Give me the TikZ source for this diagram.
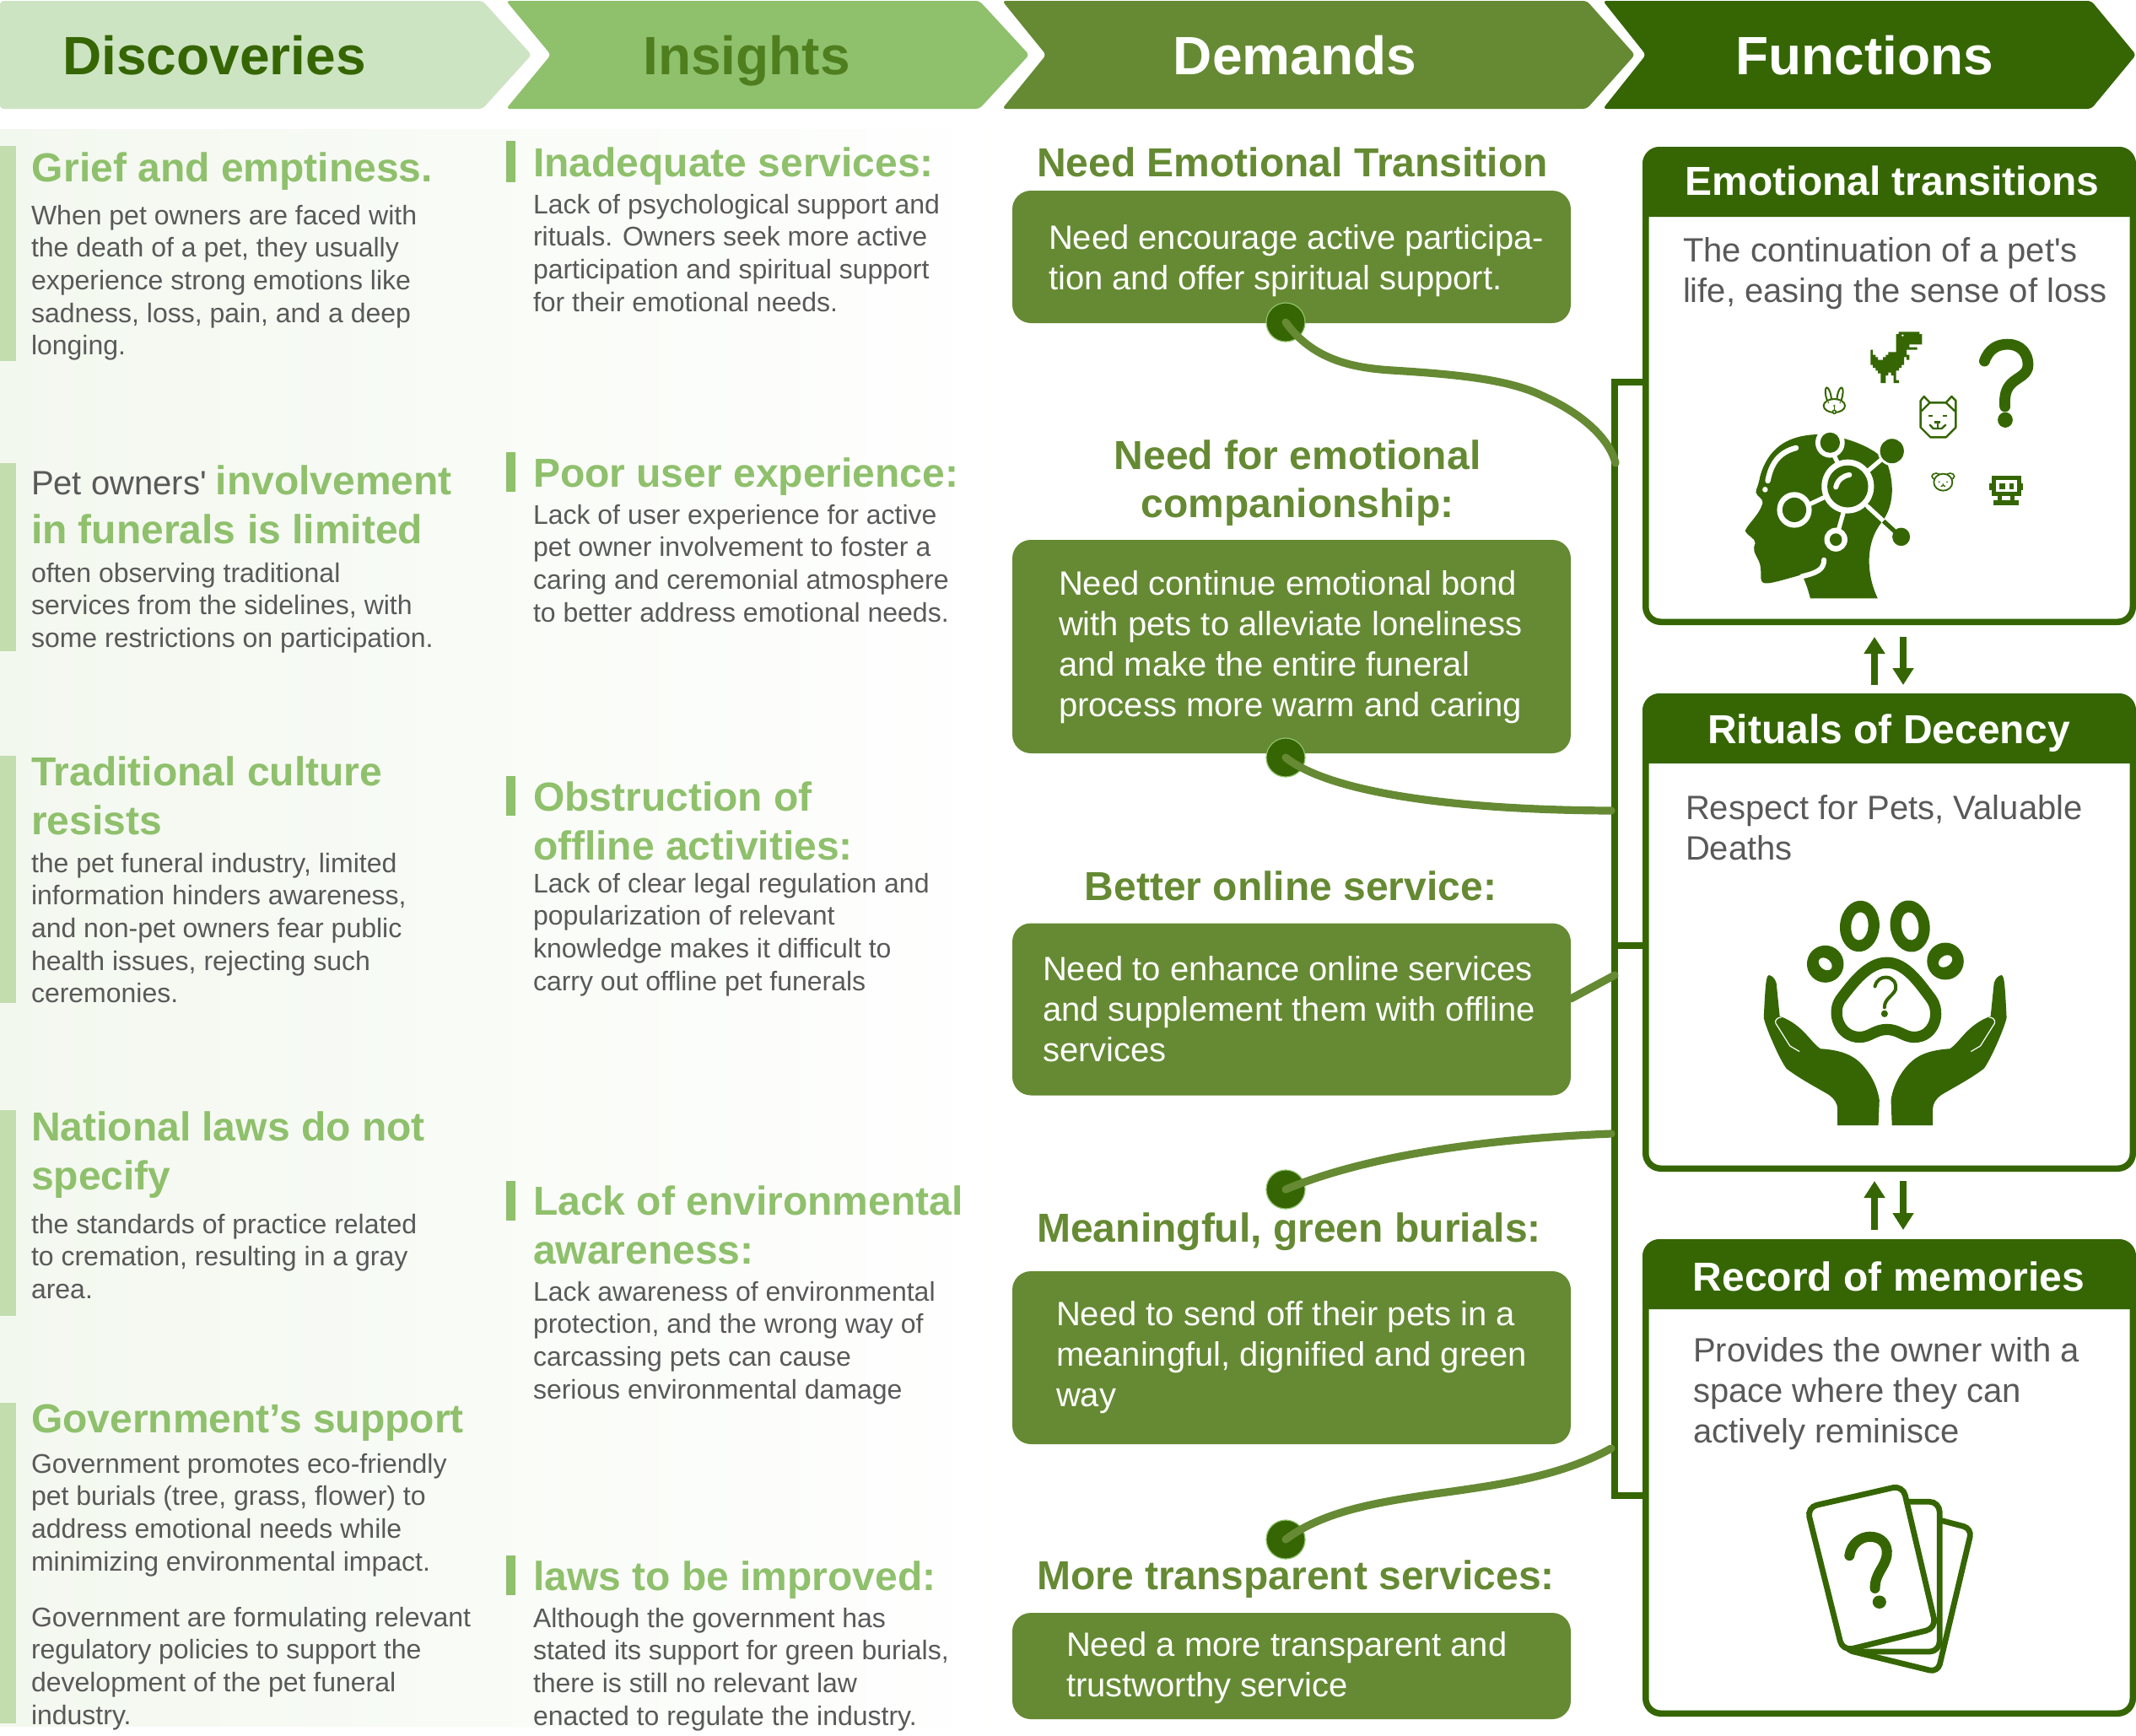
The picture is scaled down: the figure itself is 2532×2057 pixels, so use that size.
\documentclass[tikz,border=0pt]{standalone}
\usepackage{fontspec}
\setmainfont{Liberation Sans}[Ligatures=TeXOff]
\usetikzlibrary{arrows.meta}
\definecolor{fg}{HTML}{356603}
\definecolor{dm}{HTML}{658A33}
\definecolor{ins}{HTML}{8FC06C}
\definecolor{dc}{HTML}{CDE4C3}
\definecolor{barl}{HTML}{C3DDAE}
\definecolor{insT}{HTML}{4F7E1F}
\definecolor{gr}{HTML}{595959}
\definecolor{panel}{HTML}{F3F8EF}
\newcommand\blk[1]{\begin{tabular}[t]{@{}l@{}}#1\end{tabular}}
\newcommand\blc[1]{\begin{tabular}[t]{@{}c@{}}#1\end{tabular}}
\newcommand\fsz[2]{\fontsize{#1}{#2}\selectfont}
\tikzset{
 tx/.style={inner sep=0pt,outer sep=0pt,anchor=base west},
 body/.style={tx,text=gr,font=\fsz{16}{19.35}},
 ltitle/.style={tx,text=ins,font=\fsz{24}{29}\bfseries},
 dtitle/.style={tx,anchor=base,text=dm,font=\fsz{24}{28.5}\bfseries},
 boxtext/.style={tx,text=white,font=\fsz{20}{24}},
 ftitle/.style={tx,anchor=base,text=white,font=\fsz{24}{29}\bfseries},
 ftext/.style={tx,text=gr,font=\fsz{20}{24}},
 headlab/.style={tx,anchor=base,font=\fsz{32}{36}\bfseries},
 dbox/.style={draw=none,fill=dm,rounded corners=11pt,inner sep=0pt},
 fbox/.style={draw=fg,line width=3.75pt,fill=white,rounded corners=9pt,inner sep=0pt},
 dot/.style={circle,fill=fg,draw=ins,line width=.6pt,minimum size=23pt,inner sep=0pt},
 curve/.style={draw=dm,line width=4.6pt,line cap=round},
 twoway/.style={draw=fg,line width=4pt,-{Triangle[width=12pt,length=10pt]}},
 bracket/.style={draw=fg,line width=3.75pt},
 wl/.style={draw=white,line cap=round},
}
\begin{document}
\begin{tikzpicture}[x=0.5pt,y=-0.5pt]
\useasboundingbox (0,0) rectangle (2532,2057);
\fill[white] (0,0) rectangle (2532,2057);
\shade[left color=panel,right color=white] (0,153) rectangle (1215,2046);
% headers
\fill[dc,rounded corners=2pt] (0,1) -- (572,1) -- (630,65) -- (572,129) -- (0,129) -- cycle;
\fill[ins,rounded corners=2pt] (600,1) -- (1161,1) -- (1220,65) -- (1161,129) -- (600,129) -- (653,65) -- cycle;
\fill[dm,rounded corners=2pt] (1188,1) -- (1881,1) -- (1938,65) -- (1881,129) -- (1188,129) -- (1240,65) -- cycle;
\fill[fg,rounded corners=2pt] (1900,1) -- (2479,1) -- (2532,65) -- (2479,129) -- (1900,129) -- (1951,65) -- cycle;
\node[headlab,text=fg] (hd) at (254,88) {Discoveries};
\node[headlab,text=insT] (hi) at (885,88) {Insights};
\node[headlab,text=white] (hm) at (1535,88) {Demands};
\node[headlab,text=white] (hf) at (2210,88) {Functions};
% left bars
\fill[barl] (0,173) rectangle (19,428);
\fill[barl] (0,549) rectangle (19,772);
\fill[barl] (0,896) rectangle (19,1189);
\fill[barl] (0,1316) rectangle (19,1560);
\fill[barl] (0,1663) rectangle (19,2043);
\fill[ins] (600,167) rectangle (611,216);
\fill[ins] (600,536) rectangle (611,583);
\fill[ins] (600,920) rectangle (611,967);
\fill[ins] (600,1400) rectangle (611,1447);
\fill[ins] (600,1844) rectangle (611,1891);
% left column
\node[ltitle] (l1t) at (38,215) {Grief and emptiness.};
\node[body] (l1b) at (37,266) {\blk{When pet owners are faced with\\the death of a pet, they usually\\experience strong emotions like\\sadness, loss, pain, and a deep\\longing.}};
\node[ltitle] (l2t) at (37,586) {\blk{{\color{gr}\fontsize{20}{29}\selectfont\mdseries Pet owners' }involvement\\in funerals is limited}};
\node[body] (l2b) at (37,690) {\blk{often observing traditional\\services from the sidelines, with\\some restrictions on participation.}};
\node[ltitle] (l3t) at (37,931) {\blk{Traditional culture\\resists}};
\node[body] (l3b) at (37,1034) {\blk{the pet funeral industry, limited\\information hinders awareness,\\and non-pet owners fear public\\health issues, rejecting such\\ceremonies.}};
\node[ltitle] (l4t) at (37,1352) {\blk{National laws do not\\specify}};
\node[body] (l4b) at (37,1462) {\blk{the standards of practice related\\to cremation, resulting in a gray\\area.}};
\node[ltitle] (l5t) at (37,1698) {Government’s support};
\node[body] (l5b) at (37,1746) {\blk{Government promotes eco-friendly\\pet burials (tree, grass, flower) to\\address emotional needs while\\minimizing environmental impact.}};
\node[body] (l5c) at (37,1928) {\blk{Government are formulating relevant\\regulatory policies to support the\\development of the pet funeral\\industry.}};
% insights column
\node[ltitle] (i1t) at (632,209) {Inadequate services:};
\node[body] (i1b) at (632,253) {\blk{Lack of psychological support and\\rituals. Owners seek more active\\participation and spiritual support\\for their emotional needs.}};
\node[ltitle] (i2t) at (632,577) {Poor user experience:};
\node[body] (i2b) at (632,621) {\blk{Lack of user experience for active\\pet owner involvement to foster a\\caring and ceremonial atmosphere\\to better address emotional needs.}};
\node[ltitle] (i3t) at (632,961) {\blk{Obstruction of\\offline activities:}};
\node[body] (i3b) at (632,1058) {\blk{Lack of clear legal regulation and\\popularization of relevant\\knowledge makes it difficult to\\carry out offline pet funerals}};
\node[ltitle] (i4t) at (632,1440) {\blk{Lack of environmental\\awareness:}};
\node[body] (i4b) at (632,1542) {\blk{Lack awareness of environmental\\protection, and the wrong way of\\carcassing pets can cause\\serious environmental damage}};
\node[ltitle] (i5t) at (632,1885) {laws to be improved:};
\node[body] (i5b) at (632,1929) {\blk{Although the government has\\stated its support for green burials,\\there is still no relevant law\\enacted to regulate the industry.}};
% demands column
\node[dtitle] (m1t) at (1532,209) {Need Emotional Transition};
\node[dtitle] (m2t) at (1538,556) {\blc{Need for emotional\\companionship:}};
\node[dtitle] (m3t) at (1530,1067) {Better online service:};
\node[dtitle] (m4t) at (1528,1472) {Meaningful, green burials:};
\node[dtitle] (m5t) at (1536,1884) {More transparent services:};
\node[dbox,minimum width=331pt,minimum height=78.5pt] (m1) at (1531,304.5) {};
\node[dbox,minimum width=331pt,minimum height=126.5pt] (m2) at (1531,766.5) {};
\node[dbox,minimum width=331pt,minimum height=102pt] (m3) at (1531,1196.5) {};
\node[dbox,minimum width=331pt,minimum height=102.5pt] (m4) at (1531,1609.5) {};
\node[dbox,minimum width=331pt,minimum height=63pt] (m5) at (1531,1975) {};
\node[boxtext] (m1x) at (1243,295) {\blk{Need encourage active participa-\\tion and offer spiritual support.}};
\node[boxtext] (m2x) at (1255,705) {\blk{Need continue emotional bond\\with pets to alleviate loneliness\\and make the entire funeral\\process more warm and caring}};
\node[boxtext] (m3x) at (1236,1162) {\blk{Need to enhance online services\\and supplement them with offline\\services}};
\node[boxtext] (m4x) at (1252,1571) {\blk{Need to send off their pets in a\\meaningful, dignified and green\\way}};
\node[boxtext] (m5x) at (1264,1963) {\blk{Need a more transparent and\\trustworthy service}};
% functions boxes
\node[fbox,minimum width=288.75pt,minimum height=279.75pt] (f1) at (2239.5,457.5) {};
\node[fbox,minimum width=288.75pt,minimum height=279.75pt] (f2) at (2239.5,1105.5) {};
\node[fbox,minimum width=288.75pt,minimum height=279.25pt] (f3) at (2239.5,1752) {};
\fill[fg] (1947,257) {[rounded corners=10pt] -- (1947,174) -- (2532,174)} -- (2532,257) -- cycle;
\fill[fg] (1947,905) {[rounded corners=10pt] -- (1947,822) -- (2532,822)} -- (2532,905) -- cycle;
\fill[fg] (1947,1552) {[rounded corners=10pt] -- (1947,1469) -- (2532,1469)} -- (2532,1552) -- cycle;
\node[ftitle] (f1t) at (2243,231) {Emotional transitions};
\node[ftitle] (f2t) at (2239,881) {Rituals of Decency};
\node[ftitle] (f3t) at (2239,1530) {Record of memories};
\node[ftext] (f1x) at (1995,310) {\blk{The continuation of a pet's\\life, easing the sense of loss}};
\node[ftext] (f2x) at (1998,971) {\blk{Respect for Pets, Valuable\\Deaths}};
\node[ftext] (f3x) at (2007,1614) {\blk{Provides the owner with a\\space where they can\\actively reminisce}};
% bracket
\coordinate (b1) at (1914,453);
\coordinate (b2) at (1914,1121);
\coordinate (b3) at (1914,1773);
\draw[bracket] (f1.west |- b1) -- (b1) -- (b3) -- (f3.west |- b3);
\draw[bracket] (b2) -- (f2.west |- b2);
% connectors
\node[dot] (d1) at (1524,382) {};
\node[dot] (d2) at (1524,898) {};
\node[dot] (d4) at (1524,1410) {};
\node[dot] (d5) at (1524,1825) {};
\coordinate (c1) at (1915,549);
\coordinate (c2) at (1910,961);
\coordinate (c3a) at (1862,1184);
\coordinate (c3) at (1914,1156);
\coordinate (c4) at (1910,1344);
\coordinate (c5) at (1910,1717);
\draw[curve] (d1.center) .. controls (1555,425) and (1600,436) .. (1650,439) .. controls (1730,444) and (1790,450) .. (1830,470) .. controls (1875,490) and (1908,520) .. (c1);
\draw[curve] (d2.center) .. controls (1570,935) and (1700,960) .. (c2);
\draw[curve] (c3a) -- (c3);
\draw[curve] (d4.center) .. controls (1620,1370) and (1760,1350) .. (c4);
\draw[curve] (d5.center) .. controls (1570,1790) and (1640,1780) .. (1700,1771) .. controls (1780,1760) and (1850,1750) .. (c5);
% arrows between function boxes
\coordinate (a1u) at (2222,812); \coordinate (a1v) at (2222,755);
\coordinate (a1d) at (2256,755); \coordinate (a1e) at (2256,812);
\coordinate (a2u) at (2222,1458); \coordinate (a2v) at (2222,1400);
\coordinate (a2d) at (2256,1400); \coordinate (a2e) at (2256,1458);
\draw[twoway] (a1u) -- (a1v);
\draw[twoway] (a1d) -- (a1e);
\draw[twoway] (a2u) -- (a2v);
\draw[twoway] (a2d) -- (a2e);
% ---- icon: head
\begin{scope}[shift={(1900,150)},x=0.2016pt,y=-0.2075pt]
\fill[fg] (610,1348) -- (808,1348) .. controls (775,1280) and (770,1190) .. (820,1130) .. controls (860,1080) and (855,1010) .. (835,960) .. controls (800,915) and (700,878) .. (620,880) .. controls (540,885) and (485,920) .. (462,1000) .. controls (458,1025) and (450,1035) .. (450,1045) .. controls (455,1060) and (470,1060) .. (470,1075) .. controls (460,1110) and (430,1130) .. (418,1155) .. controls (425,1170) and (448,1175) .. (448,1190) .. controls (440,1210) and (445,1215) .. (458,1240) .. controls (470,1265) and (460,1290) .. (468,1300) .. controls (475,1310) and (495,1305) .. (585,1280) .. controls (600,1310) and (605,1330) .. (610,1348) -- cycle;
\draw[wl,line width=3.2pt] (568,918) .. controls (520,930) and (495,960) .. (485,1012);
\fill[white] (477,1037) circle[radius=8];
\draw[wl,line width=3pt] (585,1285) .. controls (630,1275) and (650,1265) .. (650,1238);
\draw[wl,line width=2.6pt] (680,940) -- (695,970);
\draw[wl,line width=2.6pt] (610,1078) -- (660,1055);
\draw[wl,line width=2.6pt] (708,1100) -- (692,1155);
\draw[wl,line width=2.6pt] (778,985) -- (820,950);
\draw[wl,line width=2.6pt] (778,1085) -- (825,1127);
\draw[fg,line width=2.6pt] (825,1127) -- (860,1158);
\fill[white] (668,903) circle[radius=43];
\fill[fg] (668,903) circle[radius=29];
\fill[white] (720,1028) circle[radius=77];
\fill[fg] (720,1028) circle[radius=60];
\draw[wl,line width=3pt] (685,1030) .. controls (690,1010) and (705,998) .. (725,995);
\fill[white] (563,1095) circle[radius=51];
\fill[fg] (563,1095) circle[radius=35];
\fill[white] (685,1180) circle[radius=34];
\fill[fg] (685,1180) circle[radius=18];
\fill[white] (850,927) circle[radius=42];
\fill[fg] (850,927) circle[radius=35];
\fill[fg] (877,1172) circle[radius=26];
% question mark
\draw[fg,line width=6.4pt,line cap=round] (1122,670) .. controls (1135,635) and (1160,622) .. (1190,622) .. controls (1230,622) and (1250,650) .. (1250,680) .. controls (1250,710) and (1220,715) .. (1200,735) .. controls (1185,750) and (1180,770) .. (1182,800);
\fill[fg] (1183,838) circle[radius=22];
\end{scope}
% dino
\begin{scope}[shift={(2200,380)},x=0.1667pt,y=-0.1667pt]
\fill[fg] (152,40) -- (226,40) -- (226,48) -- (235,48) -- (235,85) -- (190,85) -- (190,95) -- (218,95) -- (218,104) -- (180,104) -- (180,122) -- (190,122) -- (190,140) -- (180,140) -- (180,130) -- (171,130) -- (171,158) -- (162,158) -- (162,168) -- (153,168) -- (153,178) -- (143,178) -- (143,212) -- (153,212) -- (153,222) -- (134,222) -- (134,195) -- (125,195) -- (125,185) -- (115,185) -- (115,195) -- (106,195) -- (106,212) -- (106,212) -- (106,222) -- (88,222) -- (88,188) -- (78,188) -- (78,178) -- (70,178) -- (70,168) -- (60,168) -- (60,158) -- (52,158) -- (52,104) -- (60,104) -- (60,122) -- (70,122) -- (70,130) -- (78,130) -- (78,140) -- (96,140) -- (96,130) -- (106,130) -- (106,122) -- (115,122) -- (115,112) -- (143,112) -- (143,48) -- (152,48) -- cycle;
\fill[white] (166,53) circle[radius=4];
\end{scope}
% rabbit
\begin{scope}[shift={(2150,445)},x=0.1667pt,y=-0.1667pt]
\draw[fg,line width=1pt,fill=white] (52,72) [rotate around={12:(52,72)}] ellipse[x radius=9,y radius=29];
\draw[fg,line width=1pt,fill=white] (93,72) [rotate around={-12:(93,72)}] ellipse[x radius=9,y radius=29];
\draw[fg,line width=1pt,fill=white] (73,108) ellipse[x radius=38,y radius=24];
\fill[fg] (52,97) circle[radius=3];\fill[fg] (94,97) circle[radius=3];\fill[fg] (73,108) circle[radius=4];
\draw[fg,line width=.8pt] (73,108) -- (73,122);
\draw[fg,line width=.8pt,fill=white] (73,130) circle[radius=6];
\end{scope}
% dog
\begin{scope}[shift={(2260,460)},x=0.1667pt,y=-0.1667pt]
\draw[fg,line width=1.2pt,line join=round] (62,30) -- (83,52) -- (140,52) -- (160,30) -- (175,45) -- (175,140) -- (140,175) -- (85,175) -- (50,140) -- (50,45) -- cycle;
\draw[fg,line width=1.2pt] (50,85) -- (83,52) (175,85) -- (140,52);
\draw[fg,line width=1.2pt] (78,99) -- (92,99) (130,99) -- (144,99) (100,121) -- (120,121) (110,121) -- (110,144);
\draw[fg,line width=1.2pt] (82,130) -- (95,144) -- (125,144) -- (140,130);
\end{scope}
% pup and robot
\begin{scope}[shift={(2280,550)},x=0.1667pt,y=-0.1667pt]
\draw[fg,line width=.8pt,fill=white] (45,44) ellipse[x radius=15,y radius=11];
\draw[fg,line width=.8pt,fill=white] (95,44) ellipse[x radius=15,y radius=11];
\draw[fg,line width=.9pt,fill=white] (70,65) ellipse[x radius=33,y radius=30];
\fill[fg] (56,64) circle[radius=3];\fill[fg] (84,64) circle[radius=3];
\draw[fg,line width=.7pt] (70,70) -- (70,76) (62,80) -- (70,76) -- (78,80);
\fill[fg] (242,42) rectangle (347,115);
\fill[fg] (235,70) rectangle (354,92);
\fill[white] (258,58) rectangle (332,100);
\fill[fg] (270,68) rectangle (290,90);
\fill[fg] (305,68) rectangle (322,90);
\fill[fg] (265,115) rectangle (280,130);
\fill[fg] (310,115) rectangle (325,130);
\fill[fg] (248,130) rectangle (340,147);
\end{scope}
% ---- icon: paw and hands
\begin{scope}[shift={(1900,800)},x=0.2016pt,y=-0.2075pt]
\fill[fg] (755,718) [rotate around={-5:(755,718)}] ellipse[x radius=58,y radius=73];
\fill[white] (755,718) [rotate around={-5:(755,718)}] ellipse[x radius=25,y radius=40];
\fill[fg] (903,718) [rotate around={8:(903,718)}] ellipse[x radius=58,y radius=74];
\fill[white] (903,718) [rotate around={8:(903,718)}] ellipse[x radius=25,y radius=40];
\fill[fg] (654,826) ellipse[x radius=54,y radius=53];
\fill[white] (654,826) [rotate around={-40:(654,826)}] ellipse[x radius=22,y radius=15];
\fill[fg] (1007,818) ellipse[x radius=54,y radius=53];
\fill[white] (1007,818) [rotate around={35:(1007,818)}] ellipse[x radius=22,y radius=15];
\draw[fg,line width=6.6pt] (835,822) .. controls (890,822) and (930,880) .. (965,925) .. controls (995,965) and (975,1035) .. (915,1035) .. controls (885,1035) and (870,1013) .. (835,1013) .. controls (800,1013) and (785,1035) .. (755,1035) .. controls (695,1035) and (670,965) .. (700,925) .. controls (735,880) and (780,822) .. (835,822) -- cycle;
\draw[fg,line width=2pt,line cap=round] (800,890) .. controls (805,870) and (820,864) .. (832,864) .. controls (852,864) and (865,880) .. (860,900) .. controls (852,918) and (828,925) .. (828,950);
\fill[fg] (828,968) circle[radius=10];
\newcommand\handshape{
 \fill[fg] (690,1287) -- (810,1287) -- (813,1215) .. controls (805,1160) and (770,1115) .. (740,1095) .. controls (710,1075) and (670,1070) .. (640,1068) .. controls (610,1050) and (590,1000) .. (520,975) -- (510,880) .. controls (505,865) and (495,858) .. (488,858) .. controls (480,860) and (478,880) .. (473,980) .. controls (480,1010) and (520,1100) .. (540,1125) .. controls (580,1155) and (640,1185) .. (665,1200) .. controls (680,1210) and (690,1225) .. (690,1240) -- cycle;
 \draw[white,line width=.6pt] (578,1076) -- (550,1060) -- (508,995) .. controls (505,985) and (515,978) .. (525,978);
}
\handshape
\begin{scope}[shift={(1660,0)},xscale=-1]
\handshape
\end{scope}
\end{scope}
% ---- icon: cards
\begin{scope}[shift={(1900,1450)},x=0.2016pt,y=-0.1936pt]
\draw[fg,line width=3.4pt,fill=white,rounded corners=5pt] (810,860) -- (1085,935) -- (985,1375) -- (710,1305) -- cycle;
\draw[fg,line width=3.4pt,fill=white,rounded corners=6pt] (720,853) -- (990,853) -- (990,1312) -- (720,1312) -- cycle;
\draw[fg,line width=3.4pt,fill=white,rounded corners=6pt] (600,870) -- (882,803) -- (980,1240) -- (705,1310) -- cycle;
\draw[fg,line width=6pt,line cap=round] (725,1018) .. controls (730,980) and (760,960) .. (785,960) .. controls (820,960) and (838,985) .. (835,1015) .. controls (830,1055) and (800,1070) .. (800,1118);
\fill[fg] (813,1160) circle[radius=20];
\end{scope}
\end{tikzpicture}
\end{document}
